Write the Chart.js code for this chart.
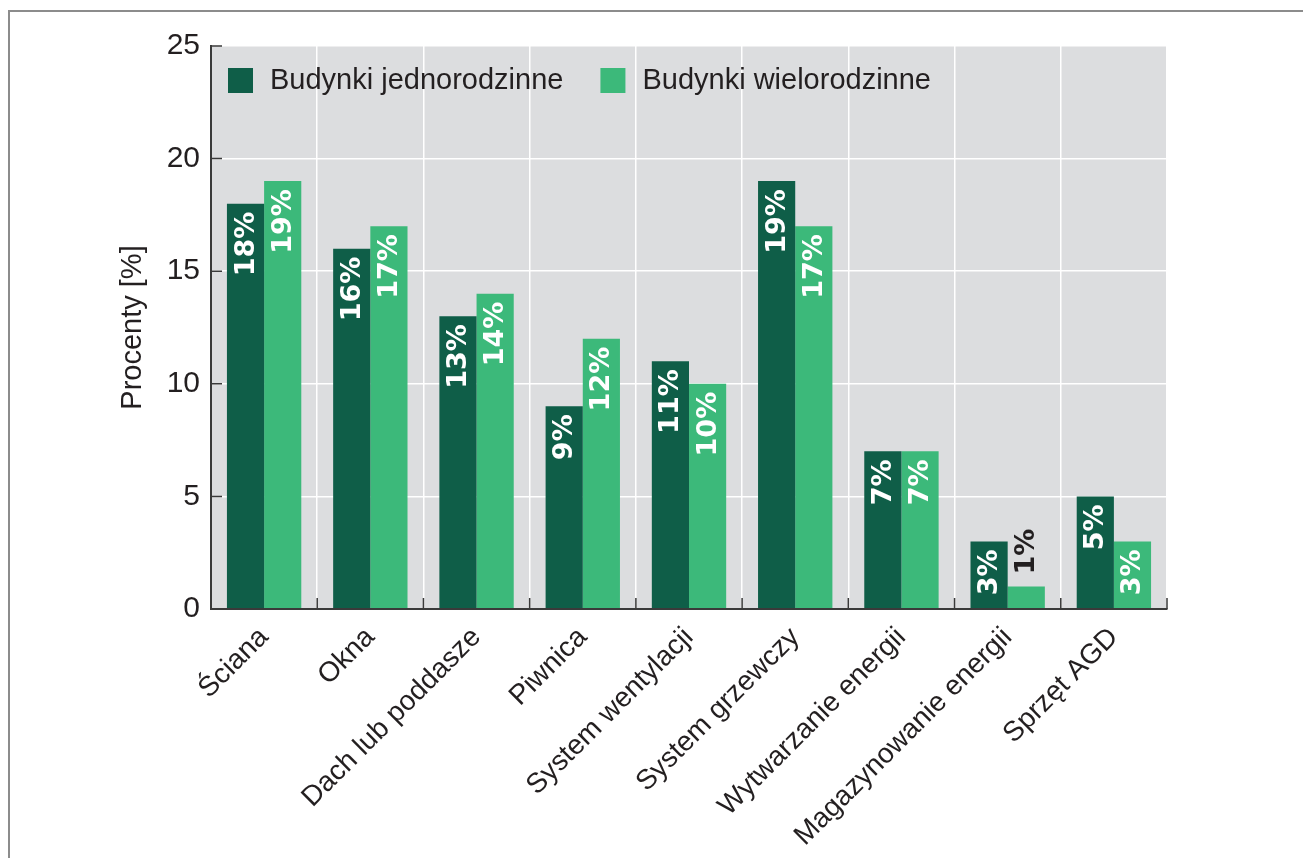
<!DOCTYPE html>
<html>
<head>
<meta charset="utf-8">
<script src="https://cdn.jsdelivr.net/npm/chart.js@4.4.0/dist/chart.umd.min.js"></script>
<style>
  html, body { margin: 0; padding: 0; background: #fff; }
  #frame { position: absolute; left: 8px; top: 10px; width: 1295px; height: 848px;
           border-top: 2px solid #8c8c8c; border-left: 2px solid #8c8c8c; }
  #wrap { position: absolute; left: 0; top: 0; width: 1303px; height: 858px; }
</style>
</head>
<body>
<div id="frame"></div>
<div id="wrap"><canvas id="myChart" width="1303" height="858"></canvas></div>
<script>
const categories = ['Ściana', 'Okna', 'Dach lub poddasze', 'Piwnica', 'System wentylacji',
                    'System grzewczy', 'Wytwarzanie energii', 'Magazynowanie energii', 'Sprzęt AGD'];
const seriesNames = ['Budynki jednorodzinne', 'Budynki wielorodzinne'];
const singleFamily = [18, 16, 13, 9, 11, 19, 7, 3, 5];
const multiFamily = [19, 17, 14, 12, 10, 17, 7, 1, 3];
const yTicks = [0, 5, 10, 15, 20, 25];

const darkGreen = '#0f5e48';
const lightGreen = '#3cb97a';
const textColor = '#231f20';

const ctx = document.getElementById('myChart');

// grey plot background
const plotBackground = {
  id: 'plotBackground',
  beforeDraw(chart) {
    const {ctx, chartArea: a} = chart;
    ctx.save();
    ctx.fillStyle = '#dcdddf';
    ctx.fillRect(a.left, a.top, a.right - a.left, a.bottom - a.top);
    ctx.restore();
  }
};

// rotated value labels inside the bars (or above if the bar is too short)
const barLabels = {
  id: 'barLabels',
  afterDatasetsDraw(chart) {
    const {ctx} = chart;
    ctx.save();
    ctx.font = 'bold 27px "DejaVu Sans"';
    chart.data.datasets.forEach((ds, di) => {
      chart.getDatasetMeta(di).data.forEach((bar, i) => {
        const txt = ds.data[i] + '%';
        const w = ctx.measureText(txt).width;
        const h = bar.base - bar.y;
        ctx.save();
        ctx.translate(bar.x, bar.y);
        ctx.rotate(-Math.PI / 2);
        ctx.textBaseline = 'middle';
        if (h > w + 14) {
          ctx.fillStyle = '#fff';
          ctx.textAlign = 'right';
          ctx.fillText(txt, -8, 1);
        } else {
          ctx.fillStyle = textColor;
          ctx.textAlign = 'left';
          ctx.fillText(txt, 12, 1);
        }
        ctx.restore();
      });
    });
    ctx.restore();
  }
};

// axis lines and small inward tick marks
const innerTicks = {
  id: 'innerTicks',
  afterDraw(chart) {
    const {ctx, chartArea: a, scales: {x, y}} = chart;
    ctx.save();
    ctx.strokeStyle = '#3a3a3a';
    ctx.lineWidth = 1.5;
    ctx.beginPath();
    yTicks.forEach(v => {
      const py = y.getPixelForValue(v);
      ctx.moveTo(a.left, py);
      ctx.lineTo(a.left + 11, py);
    });
    for (let i = 1; i <= categories.length; i++) {
      const px = x.getPixelForValue(i - 0.5);
      ctx.moveTo(px, a.bottom);
      ctx.lineTo(px, a.bottom - 11);
    }
    ctx.stroke();
    ctx.lineWidth = 2;
    ctx.beginPath();
    ctx.moveTo(a.left, a.bottom);
    ctx.lineTo(a.right, a.bottom);
    ctx.stroke();
    ctx.restore();
  }
};

// legend drawn inside the plot area, top left
const innerLegend = {
  id: 'innerLegend',
  afterDraw(chart) {
    const {ctx, chartArea: a} = chart;
    ctx.save();
    ctx.font = '29px "Liberation Sans", Arial, sans-serif';
    ctx.textBaseline = 'middle';
    let px = a.left + 17;
    const py = a.top + 22;
    chart.data.datasets.forEach(ds => {
      ctx.fillStyle = ds.backgroundColor;
      ctx.fillRect(px, py, 25, 25);
      ctx.fillStyle = textColor;
      ctx.fillText(ds.label, px + 42, py + 13);
      px += 42 + ctx.measureText(ds.label).width + 37;
    });
    ctx.restore();
  }
};

new Chart(ctx, {
  type: 'bar',
  data: {
    labels: categories,
    datasets: [
      { label: seriesNames[0], data: singleFamily, backgroundColor: darkGreen },
      { label: seriesNames[1], data: multiFamily, backgroundColor: lightGreen }
    ]
  },
  options: {
    responsive: false,
    animation: false,
    categoryPercentage: 0.7,
    barPercentage: 1.0,
    layout: { padding: { left: 100, top: 46, right: 136, bottom: 0 } },
    plugins: {
      legend: { display: false },
      tooltip: { enabled: false }
    },
    scales: {
      x: {
        grid: { color: '#fff', lineWidth: 1.5, drawTicks: false, offset: true },
        border: { color: '#3a3a3a', width: 2 },
        ticks: {
          color: textColor,
          font: { family: '"Liberation Sans", Arial, sans-serif', size: 28 },
          maxRotation: 45, minRotation: 45, autoSkip: false, padding: 12
        },
        afterFit(scale) { scale.height = 249; }
      },
      y: {
        min: 0, max: 25,
        grid: { color: '#fff', lineWidth: 1.5, drawTicks: false },
        border: { color: '#3a3a3a', width: 2 },
        ticks: {
          color: textColor,
          font: { family: '"Liberation Sans", Arial, sans-serif', size: 30 },
          padding: 11
        },
        afterBuildTicks(scale) { scale.ticks = yTicks.map(v => ({ value: v })); },
        title: {
          display: true, text: 'Procenty [%]', color: textColor,
          font: { family: '"Liberation Sans", Arial, sans-serif', size: 29 },
          padding: { top: 16, bottom: 0 }
        },
        afterFit(scale) { scale.width = 111; }
      }
    }
  },
  plugins: [plotBackground, barLabels, innerTicks, innerLegend]
});
</script>
</body>
</html>
